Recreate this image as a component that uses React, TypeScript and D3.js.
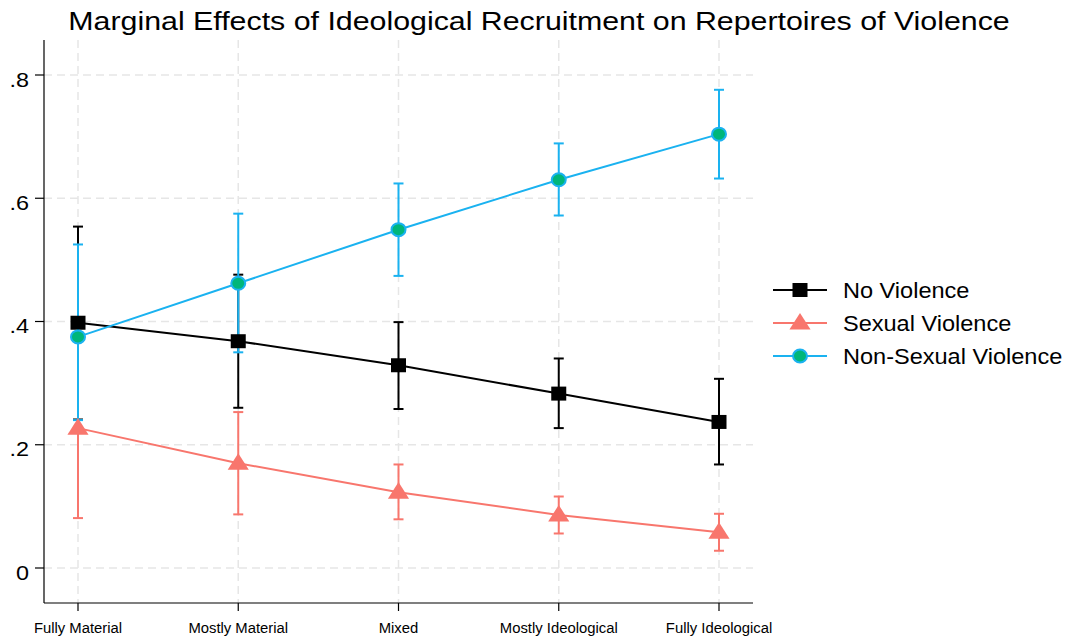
import React from "react";
import * as d3 from "d3";

// categories on x
const categories = [
  "Fully Material",
  "Mostly Material",
  "Mixed",
  "Mostly Ideological",
  "Fully Ideological",
];

// point estimates + 95% CI
const noViolence = [0.398, 0.368, 0.329, 0.283, 0.237];
const noViolenceLo = [0.241, 0.26, 0.258, 0.227, 0.168];
const noViolenceHi = [0.554, 0.476, 0.399, 0.34, 0.307];

const sexual = [0.227, 0.17, 0.123, 0.086, 0.058];
const sexualLo = [0.081, 0.087, 0.079, 0.056, 0.028];
const sexualHi = [0.373, 0.253, 0.168, 0.116, 0.088];

const nonSexual = [0.375, 0.462, 0.549, 0.63, 0.704];
const nonSexualLo = [0.24, 0.35, 0.474, 0.572, 0.632];
const nonSexualHi = [0.525, 0.575, 0.624, 0.689, 0.776];

const yTicks = [0, 0.2, 0.4, 0.6, 0.8];
const yTickLabels = ["0", ".2", ".4", ".6", ".8"];

const FONT = "'Liberation Sans', Arial, sans-serif";

type Series = {
  name: string;
  values: number[];
  lo: number[];
  hi: number[];
  color: string;
  fill: string;
  marker: "square" | "triangle" | "circle";
};

const series: Series[] = [
  { name: "No Violence", values: noViolence, lo: noViolenceLo, hi: noViolenceHi, color: "#000000", fill: "#000000", marker: "square" },
  { name: "Sexual Violence", values: sexual, lo: sexualLo, hi: sexualHi, color: "#f8766d", fill: "#f8766d", marker: "triangle" },
  { name: "Non-Sexual Violence", values: nonSexual, lo: nonSexualLo, hi: nonSexualHi, color: "#1ab2f0", fill: "#00b67a", marker: "circle" },
];

function Marker({ type, x, y, color, fill }: { type: string; x: number; y: number; color: string; fill: string }) {
  if (type === "square") {
    return <rect x={x - 7.5} y={y - 7} width={15} height={14} fill={fill} />;
  }
  if (type === "triangle") {
    const s = d3.symbol().type(d3.symbolTriangle).size(160)();
    return <path d={s || ""} transform={`translate(${x},${y + 1}) scale(1.1,1)`} fill={fill} />;
  }
  return <ellipse cx={x} cy={y} rx={7} ry={6.5} fill={fill} stroke={color} strokeWidth={2} />;
}

// stretched text (reference image is slightly wider than tall)
function SText({ x, y, sx, size, anchor, children }: { x: number; y: number; sx: number; size: number; anchor?: string; children: React.ReactNode }) {
  return (
    <text transform={`translate(${x},${y}) scale(${sx},1)`} textAnchor={anchor || "start"} fontSize={size} fill="#000">
      {children}
    </text>
  );
}

export default function App() {
  const width = 1071;
  const height = 640;
  const left = 44;
  const right = 753;
  const top = 40;
  const bottom = 603;

  const x = d3.scalePoint<string>().domain(categories).range([78, 719]);
  const y = d3.scaleLinear().domain([0, 0.8]).range([568, 75]);

  const line = d3
    .line<number>()
    .x((_, i) => x(categories[i]) as number)
    .y((d) => y(d));

  const gridColor = "#e6e6e6";
  const cap = 5;

  return (
    <svg
      width={width}
      height={height}
      style={{ position: "absolute", left: 0, top: 0, background: "#fff" }}
      fontFamily={FONT}
    >
      <rect width={width} height={height} fill="#fff" />
      <SText x={539} y={30} sx={1.19} size={25.5} anchor="middle">
        Marginal Effects of Ideological Recruitment on Repertoires of Violence
      </SText>

      {/* grid */}
      {yTicks.map((t) => (
        <line key={"gy" + t} x1={left} x2={right} y1={y(t)} y2={y(t)} stroke={gridColor} strokeWidth={1.5} strokeDasharray="8,5" />
      ))}
      {categories.map((c) => (
        <line key={"gx" + c} x1={x(c)} x2={x(c)} y1={top} y2={bottom} stroke={gridColor} strokeWidth={1.5} strokeDasharray="8,5" />
      ))}

      {/* axes */}
      <line x1={left} x2={left} y1={top} y2={bottom} stroke="#000" strokeWidth={1.2} />
      <line x1={left} x2={right} y1={bottom} y2={bottom} stroke="#000" strokeWidth={1.2} />
      {yTicks.map((t, i) => (
        <g key={"yt" + t}>
          <line x1={left - 9} x2={left} y1={y(t)} y2={y(t)} stroke="#000" strokeWidth={1.2} />
          <SText x={29} y={y(t) + 11.5} sx={1.2} size={19.5} anchor="end">
            {yTickLabels[i]}
          </SText>
        </g>
      ))}
      {categories.map((c) => (
        <g key={"xt" + c}>
          <line x1={x(c)} x2={x(c)} y1={bottom} y2={bottom + 8} stroke="#000" strokeWidth={1.2} />
          <SText x={x(c) as number} y={633} sx={0.99} size={15} anchor="middle">
            {c}
          </SText>
        </g>
      ))}

      {/* confidence intervals */}
      {series.map((s) => (
        <g key={"ci" + s.name} stroke={s.color} strokeWidth={2}>
          {s.values.map((_, i) => {
            const cx = x(categories[i]) as number;
            return (
              <g key={i}>
                <line x1={cx} x2={cx} y1={y(s.lo[i])} y2={y(s.hi[i])} />
                <line x1={cx - cap} x2={cx + cap} y1={y(s.lo[i])} y2={y(s.lo[i])} />
                <line x1={cx - cap} x2={cx + cap} y1={y(s.hi[i])} y2={y(s.hi[i])} />
              </g>
            );
          })}
        </g>
      ))}

      {/* lines + markers */}
      {series.map((s) => (
        <g key={"ln" + s.name}>
          <path d={line(s.values) || ""} fill="none" stroke={s.color} strokeWidth={2} />
          {s.values.map((v, i) => (
            <Marker key={i} type={s.marker} x={x(categories[i]) as number} y={y(v)} color={s.color} fill={s.fill} />
          ))}
        </g>
      ))}

      {/* legend */}
      {series.map((s, i) => {
        const ly = 290 + i * 33;
        return (
          <g key={"lg" + s.name}>
            <line x1={773} x2={827} y1={ly} y2={ly} stroke={s.color} strokeWidth={2} />
            <Marker type={s.marker} x={800} y={ly} color={s.color} fill={s.fill} />
            <SText x={843} y={ly + 8} sx={1.07} size={22} anchor="start">
              {s.name}
            </SText>
          </g>
        );
      })}
    </svg>
  );
}
